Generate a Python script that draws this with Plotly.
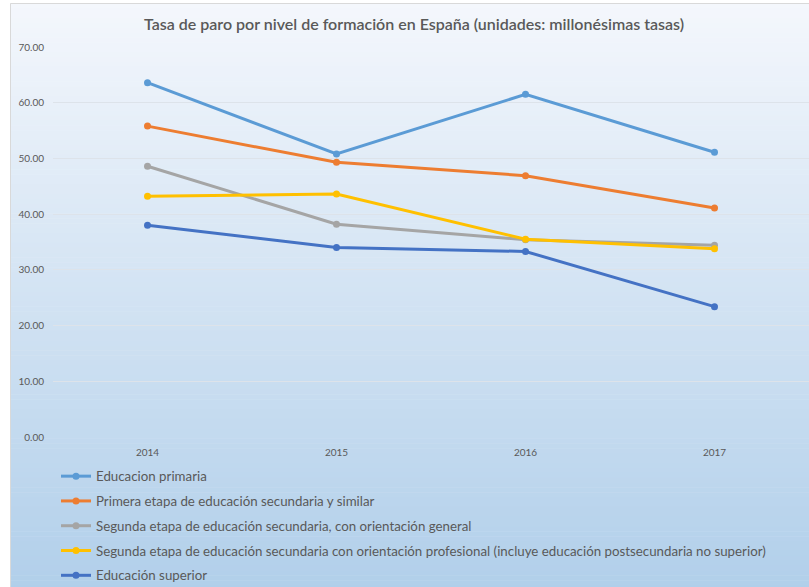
import plotly.graph_objects as go

years = ["2014", "2015", "2016", "2017"]
series_names = [
    "Educacion primaria",
    "Primera etapa de educación secundaria y similar",
    "Segunda etapa de educación secundaria, con orientación general",
    "Segunda etapa de educación secundaria con orientación profesional (incluye educación postsecundaria no superior)",
    "Educación superior",
]
primaria = [63.6, 50.8, 61.5, 51.1]
primera_etapa = [55.8, 49.3, 46.9, 41.1]
segunda_general = [48.6, 38.2, 35.4, 34.4]
segunda_profesional = [43.2, 43.6, 35.5, 33.8]
superior = [38.0, 34.0, 33.3, 23.4]
y_ticks = [0, 10, 20, 30, 40, 50, 60, 70]
y_tick_labels = ["0.00", "10.00", "20.00", "30.00", "40.00", "50.00", "60.00", "70.00"]

colors = ["#5b9bd5", "#ed7d31", "#a5a5a5", "#ffc000", "#4472c4"]
all_values = [primaria, primera_etapa, segunda_general, segunda_profesional, superior]

fig = go.Figure()
for i, (name, vals) in enumerate(zip(series_names, all_values)):
    fig.add_trace(go.Scatter(
        x=years, y=vals, name=name, mode="lines+markers",
        line=dict(color=colors[i], width=3),
        marker=dict(color=colors[i], size=7),
        legendgroup=f"g{i}",
    ))

# gradient background (chart area) via thin rectangles
W, H = 809, 587
L, R, T, B = 53, 809, 47, 437
def px_to_paper_x(px):
    return (px - L) / (R - L)
def px_to_paper_y(py):
    return (B - py) / (B - T)

top_c = (0xf4, 0xf7, 0xfc)
bot_c = (0xb1, 0xcf, 0xea)
area_top, area_bot = 3, 590
n = 120
shapes = []
for k in range(n):
    y0 = area_top + (area_bot - area_top) * k / n
    y1 = area_top + (area_bot - area_top) * (k + 1) / n
    t = (k + 0.5) / n
    c = tuple(round(top_c[j] + (bot_c[j] - top_c[j]) * t) for j in range(3))
    shapes.append(dict(
        type="rect", xref="paper", yref="paper", layer="below",
        x0=px_to_paper_x(10), x1=px_to_paper_x(815),
        y0=px_to_paper_y(y1 + 0.5), y1=px_to_paper_y(y0),
        fillcolor="rgb(%d,%d,%d)" % c, line=dict(width=0),
    ))
shapes.append(dict(
    type="rect", xref="paper", yref="paper", layer="below",
    x0=px_to_paper_x(10.5), x1=px_to_paper_x(820),
    y0=px_to_paper_y(600), y1=px_to_paper_y(3.5),
    fillcolor="rgba(0,0,0,0)", line=dict(width=1, color="#d9d9d9"),
))

fig.update_layout(
    width=W, height=H,
    margin=dict(l=L, r=W - R, t=T, b=H - B, autoexpand=False),
    paper_bgcolor="white",
    plot_bgcolor="rgba(0,0,0,0)",
    shapes=shapes,
    title=dict(
        text="Tasa de paro por nivel de formación en España (unidades: millonésimas tasas)",
        x=px_to_paper_x(414), xref="paper", xanchor="center",
        y=1 - 24 / H, yanchor="middle",
        font=dict(family="Lato", size=16, color="#595959", weight=600),
    ),
    font=dict(family="Lato", color="#595959"),
    xaxis=dict(
        type="category", range=[-0.5, 3.5], showgrid=False, zeroline=False,
        showline=False, ticks="", tickfont=dict(size=10, color="#595959"),
        ticklabelstandoff=8,
    ),
    yaxis=dict(
        range=[0, 70], tickvals=y_ticks, ticktext=y_tick_labels,
        showgrid=True, gridcolor="#dde3ea", gridwidth=1, zeroline=False,
        showline=False, ticks="", tickfont=dict(size=10, color="#595959"),
        ticklabelstandoff=8,
    ),
    legend=dict(
        orientation="v", x=px_to_paper_x(56), xanchor="left",
        y=px_to_paper_y(461), yanchor="top",
        bgcolor="rgba(0,0,0,0)", traceorder="grouped", tracegroupgap=4.5,
        font=dict(family="Lato", size=13.3, color="#595959"),
    ),
    showlegend=True,
)

fig.write_html(
    "out.html",
    config={"displayModeBar": False},
    post_script="document.body.style.margin='0';document.body.style.overflow='hidden';",
)
